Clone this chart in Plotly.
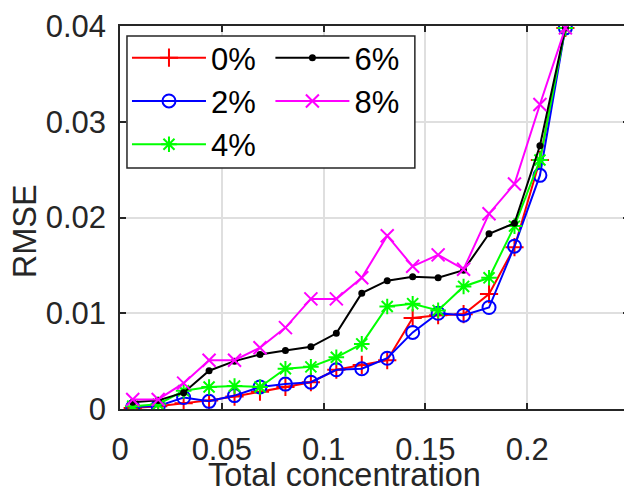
import plotly.graph_objects as go

x_conc = [0.00625, 0.01875, 0.03125, 0.04375, 0.05625, 0.06875, 0.08125, 0.09375, 0.10625,
          0.11875, 0.13125, 0.14375, 0.15625, 0.16875, 0.18125, 0.19375, 0.20625, 0.21875]

rmse_0 = [0.0001, 0.0003, 0.0006, 0.0009, 0.0013, 0.0018, 0.0023, 0.0028, 0.0041,
          0.0046, 0.0051, 0.0095, 0.0098, 0.0099, 0.0120, 0.0169, 0.0260, 0.0398]
rmse_2 = [0.0002, 0.0003, 0.0012, 0.0008, 0.0014, 0.0023, 0.0026, 0.0028, 0.0041,
          0.0042, 0.0053, 0.0080, 0.0100, 0.0098, 0.0106, 0.0170, 0.0244, 0.0398]
rmse_4 = [0.0003, 0.0005, 0.0019, 0.0023, 0.0024, 0.0023, 0.0042, 0.0044, 0.0054,
          0.0068, 0.0107, 0.0110, 0.0103, 0.0128, 0.0137, 0.0191, 0.0260, 0.0398]
rmse_6 = [0.0007, 0.0009, 0.0017, 0.0040, 0.0050, 0.0057, 0.0061, 0.0065, 0.0079,
          0.0121, 0.0134, 0.0138, 0.0137, 0.0145, 0.0183, 0.0194, 0.0275, 0.0398]
rmse_8 = [0.0010, 0.0010, 0.0027, 0.0051, 0.0051, 0.0064, 0.0085, 0.0115, 0.0115,
          0.0137, 0.0181, 0.0149, 0.0161, 0.0146, 0.0204, 0.0235, 0.0318, 0.0398]

series_names = ["0%", "2%", "4%", "6%", "8%"]
series_values = [rmse_0, rmse_2, rmse_4, rmse_6, rmse_8]
series_colors = ["#ff0000", "#0000ff", "#00ff00", "#000000", "#ff00ff"]
series_symbols = ["cross-thin-open", "circle-open", "asterisk-open", "circle", "x-thin-open"]
series_msize = [13, 13, 13, 5, 13]
series_legend = ["legend", "legend", "legend", "legend2", "legend2"]

x_ticks = [0, 0.05, 0.1, 0.15, 0.2]
x_ticklabels = ["0", "0.05", "0.1", "0.15", "0.2"]
y_ticks = [0, 0.01, 0.02, 0.03, 0.04]
y_ticklabels = ["0", "0.01", "0.02", "0.03", "0.04"]

fig = go.Figure()
for name, vals, col, sym, ms, lg in zip(series_names, series_values, series_colors,
                                         series_symbols, series_msize, series_legend):
    fig.add_trace(go.Scatter(
        x=x_conc, y=vals, name=name, mode="lines+markers",
        line=dict(color=col, width=2),
        marker=dict(symbol=sym, size=ms, color=col, line=dict(color=col, width=2)),
        legend=lg,
    ))

axis_col = "#262626"
legend_common = dict(
    orientation="v", yanchor="top", xanchor="left",
    bgcolor="rgba(0,0,0,0)", borderwidth=0,
    font=dict(size=31, color="black"), itemwidth=74, traceorder="normal",
)
fig.update_layout(
    width=624, height=483,
    margin=dict(l=112, r=1, t=15, b=82),
    paper_bgcolor="white", plot_bgcolor="white",
    font=dict(family="Liberation Sans, Arial, sans-serif", color=axis_col, size=31),
    showlegend=True,
    legend=dict(x=0.0137, y=0.987, **legend_common),
    legend2=dict(x=0.2955, y=0.987, **legend_common),
    shapes=[dict(type="rect", xref="paper", yref="paper",
                 x0=0.0137, x1=0.5793, y0=0.6295, y1=0.974,
                 line=dict(color=axis_col, width=1.5), fillcolor="white", layer="above")],
    xaxis=dict(
        range=[0, 0.25], tickvals=x_ticks, ticktext=x_ticklabels,
        showgrid=True, gridcolor="#dfdfdf", gridwidth=1.5,
        showline=True, linecolor=axis_col, linewidth=1.5, mirror="ticks",
        ticks="inside", ticklen=6, tickwidth=1.5, tickcolor=axis_col,
        zeroline=False, tickfont=dict(size=31, color=axis_col),
        ticklabelstandoff=12, ticklabeloverflow="allow",
    ),
    yaxis=dict(
        range=[0, 0.04], tickvals=y_ticks, ticktext=y_ticklabels,
        showgrid=True, gridcolor="#dfdfdf", gridwidth=1.5,
        showline=True, linecolor=axis_col, linewidth=1.5, mirror="ticks",
        ticks="inside", ticklen=6, tickwidth=1.5, tickcolor=axis_col,
        zeroline=False, tickfont=dict(size=31, color=axis_col),
        ticklabelstandoff=6, ticklabeloverflow="allow",
    ),
    annotations=[
        dict(text="Total concentration", xref="paper", yref="paper",
             x=0.442, y=-0.173, xanchor="center", yanchor="middle",
             showarrow=False, font=dict(size=32.5, color=axis_col)),
        dict(text="RMSE", xref="paper", yref="paper",
             x=-0.186, y=0.465, xanchor="center", yanchor="middle", textangle=-90,
             showarrow=False, font=dict(size=32.5, color=axis_col)),
    ],
)

fig.write_html("out.html")
